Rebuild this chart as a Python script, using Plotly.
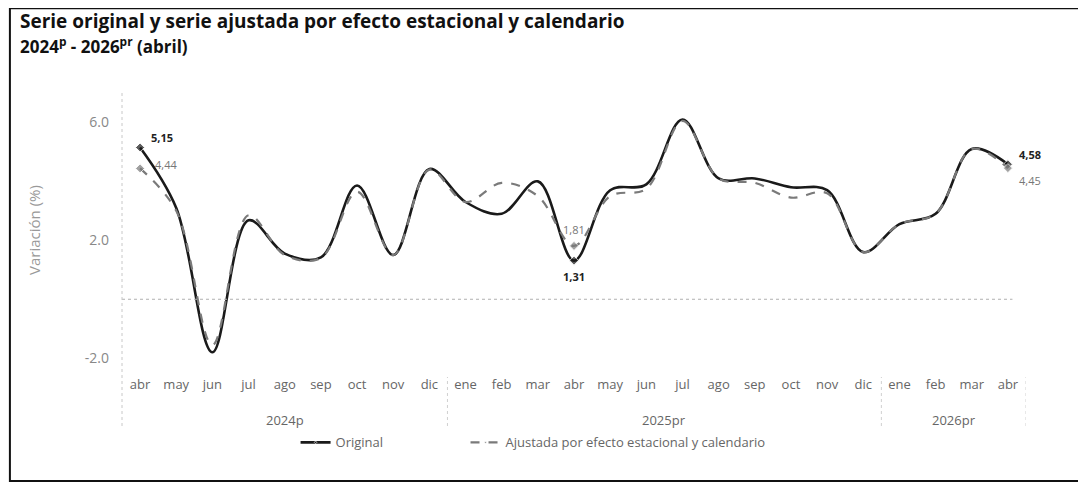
import plotly.graph_objects as go

years = ["2024p"] * 9 + ["2025pr"] * 12 + ["2026pr"] * 4
months = ["abr", "may", "jun", "jul", "ago", "sep", "oct", "nov", "dic",
          "ene", "feb", "mar", "abr", "may", "jun", "jul", "ago", "sep", "oct", "nov", "dic",
          "ene", "feb", "mar", "abr"]

original = [5.15, 3.1, -1.8, 2.68, 1.55, 1.42, 3.86, 1.5, 4.42,
            3.3, 2.9, 4.0, 1.31, 3.7, 3.9, 6.1, 4.1, 4.1, 3.8, 3.7, 1.6,
            2.55, 2.9, 5.1, 4.58]
ajustada = [4.44, 3.0, -1.55, 2.85, 1.5, 1.4, 3.65, 1.5, 4.4,
            3.3, 3.95, 3.5, 1.81, 3.5, 3.75, 6.05, 4.1, 3.95, 3.45, 3.6, 1.6,
            2.55, 2.9, 5.1, 4.45]

label_idx = [0, 12, 24]

def fmt(v):
    return f"{v:.2f}".replace(".", ",")

n = len(months)
xs = list(range(n))
msize = [7 if i in label_idx else 0 for i in range(n)]

fig = go.Figure()
fig.add_trace(go.Scatter(
    x=xs, y=original, name="Original", mode="lines+markers", legend="legend",
    customdata=[[y, m] for y, m in zip(years, months)],
    line=dict(color="#1a1a1a", width=2.6, shape="spline"),
    marker=dict(size=msize, color="#1a1a1a", symbol="diamond"),
))
fig.add_trace(go.Scatter(
    x=xs, y=ajustada, name="Ajustada por efecto estacional y calendario",
    mode="lines+markers", legend="legend2",
    line=dict(color="#7a7a7a", width=2.2, dash="dash", shape="spline"),
    marker=dict(size=msize, color="#7a7a7a", symbol="diamond"),
))

# data labels
offsets_o = {0: (22, -10), 12: (0, 16), 24: (22, -10)}
offsets_a = {0: (26, -4), 12: (0, -16), 24: (22, 12)}
for i in label_idx:
    dx, dy = offsets_o[i]
    fig.add_annotation(x=xs[i], y=original[i], text=f"<b>{fmt(original[i])}</b>", showarrow=False,
                       xshift=dx, yshift=-dy, font=dict(size=11, color="#222"))
    dx, dy = offsets_a[i]
    fig.add_annotation(x=xs[i], y=ajustada[i], text=fmt(ajustada[i]), showarrow=False,
                       xshift=dx, yshift=-dy, font=dict(size=11, color="#777"))

# year group labels and dividers
groups = []
for i, y in enumerate(years):
    if not groups or groups[-1][0] != y:
        groups.append([y, i, i])
    else:
        groups[-1][2] = i
for y, a, b in groups:
    fig.add_annotation(x=(a + b) / 2, xref="x", yref="paper", y=-0.179, yanchor="middle",
                       text=y, showarrow=False, font=dict(size=13, color="#666"))
    fig.add_shape(type="line", xref="x", yref="paper", x0=b + 0.5, x1=b + 0.5, y0=-0.2, y1=-0.025,
                  line=dict(color="#d0d0d0", width=1, dash="dot"))

# title
fig.add_annotation(xref="paper", yref="paper", x=-0.115, y=1.245, xanchor="left", yanchor="middle",
                   showarrow=False,
                   text="<b>Serie original y serie ajustada por efecto estacional y calendario</b>",
                   font=dict(family="Open Sans, sans-serif", size=19, color="#111"))
fig.add_annotation(xref="paper", yref="paper", x=-0.115, y=1.158, xanchor="left", yanchor="middle",
                   showarrow=False,
                   text="<b>2024<sup>p</sup> - 2026<sup>pr</sup> (abril)</b>",
                   font=dict(family="Open Sans, sans-serif", size=17, color="#111"))

# zero line (dotted) and y-axis dotted line
fig.add_shape(type="line", xref="paper", yref="y", x0=0, x1=0.985, y0=0, y1=0,
              line=dict(color="#b0b0b0", width=1, dash="dot"))
fig.add_shape(type="line", xref="paper", yref="paper", x0=0, x1=0, y0=-0.2, y1=1,
              line=dict(color="#c8c8c8", width=1, dash="dot"))
# outer border
fig.add_shape(type="rect", xref="paper", yref="paper", x0=-0.124, x1=1.064, y0=-0.396, y1=1.292,
              line=dict(color="#111", width=2))

fig.update_layout(
    width=1078, height=478,
    margin=dict(l=114, r=60, t=82, b=116),
    paper_bgcolor="white", plot_bgcolor="white",
    font=dict(family="Open Sans, sans-serif", color="#666"),
    showlegend=True,
    legend=dict(orientation="h", x=0.192, xanchor="left", y=-0.205, yanchor="top",
                font=dict(size=13, color="#666"), bgcolor="rgba(0,0,0,0)"),
    legend2=dict(orientation="h", x=0.38, xanchor="left", y=-0.205, yanchor="top",
                 font=dict(size=13, color="#666"), bgcolor="rgba(0,0,0,0)"),
    xaxis=dict(range=[-0.5, n - 0.5], tickvals=xs, ticktext=months, automargin=False,
               showgrid=False, zeroline=False, showline=False,
               ticks="", tickfont=dict(size=13, color="#666"), ticklabelstandoff=5),
    yaxis=dict(range=[-2.4, 7.1], tickvals=[-2, 2, 6], ticktext=["-2.0", "2.0", "6.0"],
               automargin=False,
               showgrid=False, zeroline=False, showline=False, ticks="",
               tickfont=dict(size=14, color="#888"), ticklabelstandoff=12,
               title=dict(text="Variación (%)", font=dict(size=15, color="#999"), standoff=40)),
)

fig.write_html("out.html")
